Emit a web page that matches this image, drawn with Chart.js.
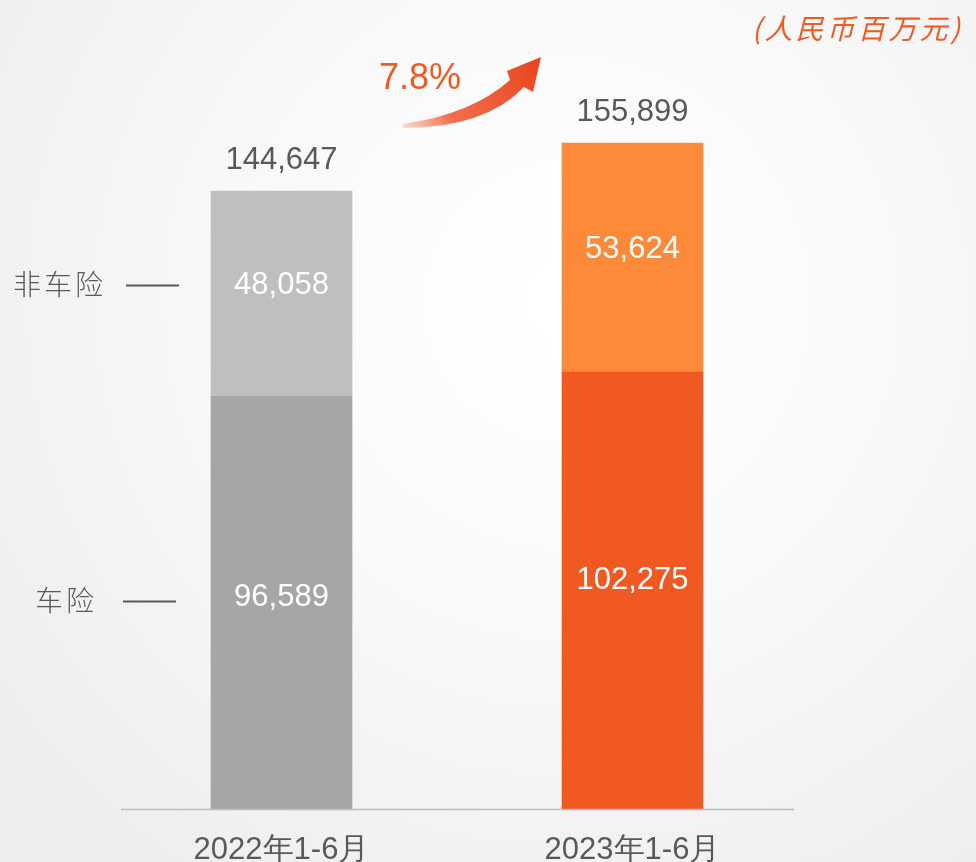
<!DOCTYPE html>
<html>
<head>
<meta charset="utf-8">
<script src="https://cdn.jsdelivr.net/npm/chart.js@4.4.1/dist/chart.umd.min.js"></script>
<style>
	html, body { margin: 0; padding: 0; }
	body {
		width: 976px; height: 862px; overflow: hidden;
		background: radial-gradient(ellipse 70% 80% at 58% 35%, #ffffff 0%, #f9f9f9 45%, #eeeeee 100%);
	}
	#wrap { position: relative; width: 976px; height: 862px; }
</style>
</head>
<body>
<div id="wrap"><canvas id="premiumChart" width="976" height="862"></canvas></div>
<script>
(function () {
	'use strict';

	// Data (人民币百万元)
	const periods = ['2022年1-6月', '2023年1-6月'];
	const motorValues = [96589, 102275];     // 车险
	const nonMotorValues = [48058, 53624];   // 非车险
	const seriesNames = ['车险', '非车险'];
	const growthText = '7.8%';
	const unitText = '(人民币百万元)';

	const motorColors = ['#a6a6a6', '#f05a22'];
	const nonMotorColors = ['#bfbfbf', '#fd8a38'];

	const fmt = v => v.toLocaleString('en-US');

	// Labels drawn on top of the bars, plus side labels, arrow and unit
	const annotate = {
		id: 'annotate',
		afterDatasetsDraw(chart) {
			const ctx = chart.ctx;
			const area = chart.chartArea;
			const m0 = chart.getDatasetMeta(0).data;
			const m1 = chart.getDatasetMeta(1).data;
			ctx.save();

			// baseline
			ctx.strokeStyle = '#bdbdbd';
			ctx.lineWidth = 1.5;
			ctx.beginPath();
			ctx.moveTo(121, area.bottom + 0.5);
			ctx.lineTo(794, area.bottom + 0.5);
			ctx.stroke();

			ctx.textAlign = 'center';
			ctx.textBaseline = 'middle';
			ctx.font = '31px "Liberation Sans", Arial, sans-serif';

			const labelYs = [[], []];
			periods.forEach((p, i) => {
				const b0 = m0[i], b1 = m1[i];
				const y0 = (b0.y + b0.base) / 2 - 5 - i * 5;
				const y1 = (b1.y + b1.base) / 2 - 8;
				labelYs[0].push(y0);
				labelYs[1].push(y1);
				ctx.fillStyle = '#ffffff';
				ctx.fillText(fmt(motorValues[i]), b0.x, y0);
				ctx.fillText(fmt(nonMotorValues[i]), b1.x, y1);
				ctx.fillStyle = '#595959';
				ctx.fillText(fmt(motorValues[i] + nonMotorValues[i]), b1.x, b1.y - 31);
			});

			// side labels for the series
			ctx.font = '300 28px "Noto Sans CJK SC", sans-serif';
			ctx.letterSpacing = '3px';
			ctx.textAlign = 'left';
			ctx.fillStyle = '#595959';
			ctx.strokeStyle = '#595959';
			ctx.lineWidth = 2;
			[[seriesNames[1], labelYs[1][0] - 1, 13, 126], [seriesNames[0], labelYs[0][0] + 3, 35, 123]].forEach(([t, y, tx, lx]) => {
				ctx.fillText(t, tx, y);
				ctx.beginPath();
				ctx.moveTo(lx, Math.round(y) + 0.5);
				ctx.lineTo(lx + 53, Math.round(y) + 0.5);
				ctx.stroke();
			});

			// unit
			ctx.font = 'italic 28px "Noto Sans CJK SC", sans-serif';
			ctx.letterSpacing = '3px';
			ctx.textAlign = 'left';
			ctx.fillStyle = '#f05a22';
			ctx.fillText(unitText, 752, 28);
			ctx.letterSpacing = '0px';

			// growth arrow
			const g = ctx.createLinearGradient(403, 127, 541, 57);
			g.addColorStop(0, 'rgba(244,120,80,0.25)');
			g.addColorStop(0.3, 'rgba(240,95,55,0.9)');
			g.addColorStop(1, '#e8441c');
			ctx.fillStyle = g;
			ctx.beginPath();
			ctx.moveTo(403, 124);
			ctx.quadraticCurveTo(472, 114, 510, 80);
			ctx.lineTo(507, 71);
			ctx.lineTo(541, 57);
			ctx.lineTo(533, 92);
			ctx.lineTo(524, 87);
			ctx.quadraticCurveTo(485, 128, 403, 128);
			ctx.closePath();
			ctx.fill();

			ctx.font = '36px "Liberation Sans", Arial, sans-serif';
			ctx.textAlign = 'center';
			ctx.fillStyle = '#f05a22';
			ctx.fillText(growthText, 420, 79);

			ctx.restore();
		}
	};

	new Chart(document.getElementById('premiumChart'), {
		type: 'bar',
		data: {
			labels: periods,
			datasets: [{
				label: seriesNames[0],
				data: motorValues,
				backgroundColor: motorColors,
				barThickness: 141
			}, {
				label: seriesNames[1],
				data: nonMotorValues,
				backgroundColor: nonMotorColors,
				barThickness: 141
			}]
		},
		options: {
			responsive: false,
			animation: false,
			layout: { padding: { left: 106, right: 168, top: 40, bottom: 0 } },
			plugins: { legend: { display: false }, tooltip: { enabled: false } },
			scales: {
				x: {
					stacked: true,
					grid: { display: false },
					border: { display: false },
					ticks: {
						color: '#595959',
						padding: 15,
						font: { family: '"Liberation Sans Narrow", "Liberation Sans", sans-serif', size: 31 }
					},
					afterFit(scale) { scale.height = 53; }
				},
				y: {
					stacked: true,
					display: false,
					min: 0,
					max: 180000
				}
			}
		},
		plugins: [annotate]
	});
})();
</script>
</body>
</html>
